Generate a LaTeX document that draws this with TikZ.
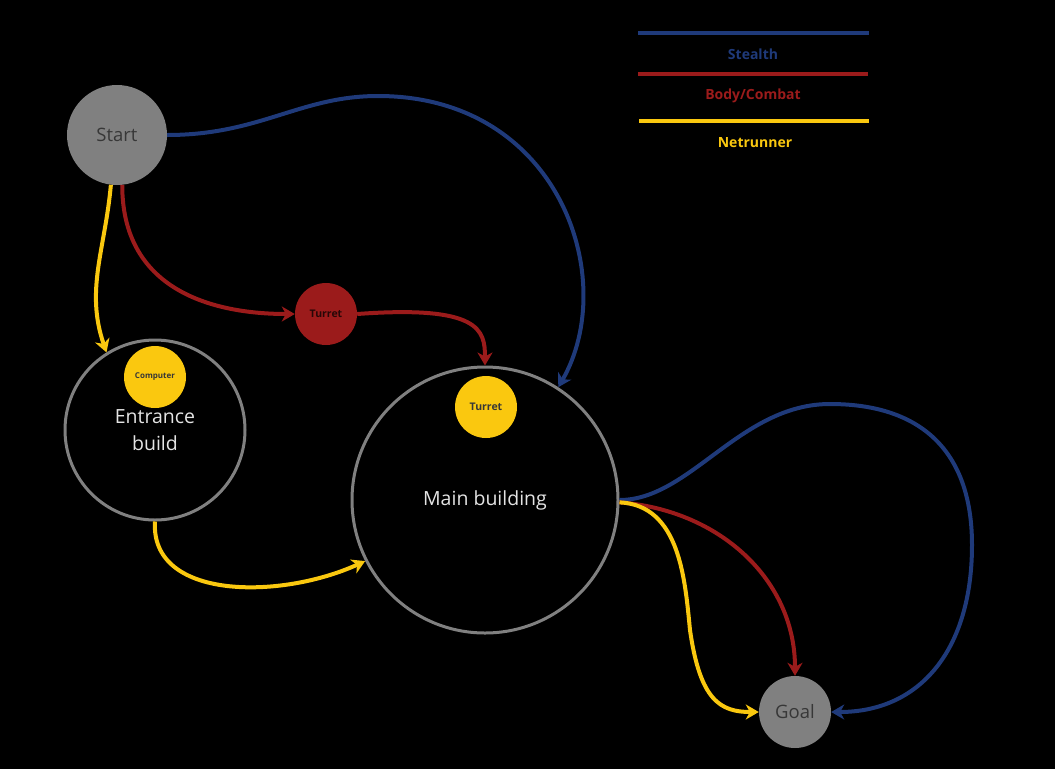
\documentclass[tikz,border=0pt]{standalone}
\usepackage{fontspec}
\setmainfont{Open Sans}
\usetikzlibrary{arrows.meta}

\definecolor{stealthblue}{RGB}{31,58,122}
\definecolor{combatred}{RGB}{155,27,27}
\definecolor{netyellow}{RGB}{250,200,15}
\definecolor{roomgray}{RGB}{128,128,128}
\definecolor{roomtext}{RGB}{228,228,228}
\definecolor{darktext}{RGB}{55,55,55}

\begin{document}
\begin{tikzpicture}[x=1pt,y=-1pt,
  room/.style={circle,draw=roomgray,line width=3pt,fill=black,inner sep=0pt,text=roomtext,font=\fontsize{19.5}{26.5}\selectfont,align=center},
  endpoint/.style={circle,fill=roomgray,inner sep=0pt,text=darktext,font=\fontsize{18.5}{22}\selectfont},
  obstacle/.style={circle,inner sep=0pt,font=\bfseries\fontsize{10.5}{12}\selectfont},
  path/.style={line width=4pt,-{Stealth[length=13pt,width=15pt,inset=4pt]}},
  legend/.style={font=\bfseries\fontsize{14}{16}\selectfont}]
\fill[black] (0,0) rectangle (1055,769);
\useasboundingbox (0,0) rectangle (1055,769);
%\draw[help lines,step=50] (0,0) grid (1055,769);

% rooms
\node[endpoint,minimum size=100pt] (start) at (117,135) {Start};
\node[endpoint,minimum size=72pt] (goal) at (795,712) {Goal};
\node[room,minimum size=180pt] (entrance) at (155,430) {\raisebox{-2pt}{Entrance}\\\raisebox{-2pt}{build}};
\node[room,minimum size=266pt] (main) at (485,500) {\raisebox{-2.5pt}{Main building}};

% obstacles
\node[obstacle,fill=netyellow,text=darktext,minimum size=62pt,font=\bfseries\fontsize{8}{9}\selectfont] (computer) at (155,377) {Computer};
\node[obstacle,fill=combatred,text=black!75!combatred,minimum size=62pt] (turretA) at (326,314) {Turret};
\node[obstacle,fill=netyellow,text=darktext,minimum size=62pt] (turretB) at (486,407) {Turret};

% stealth
\draw[path,stealthblue] (start.east) .. controls (260,135) and (300,96) .. (378,96)
  .. controls (560,96) and (620,280) .. (main.57);
\draw[path,stealthblue] (main.east) .. controls (690,500) and (740,404) .. (830,404)
  .. controls (920,404) and (972,450) .. (972,545)
  .. controls (972,650) and (920,712) .. (goal.east);

% body/combat
\draw[path,combatred] (start.-84) .. controls (122,300) and (230,314) .. (turretA.west);
\draw[path,combatred] (turretA.east) .. controls (480,305) and (485,330) .. (main.north);
\draw[path,combatred] (main.-1) .. controls (720,510) and (795,580) .. (goal.north);

% netrunner
\draw[path,netyellow] (start.-97) .. controls (105,250) and (85,290) .. (entrance.122);
\draw[path,netyellow] (entrance.south) .. controls (150,600) and (280,600) .. (main.207);
\draw[path,netyellow] (main.-1) .. controls (680,505) and (685,580) .. (690,630)
  .. controls (700,700) and (720,712) .. (goal.west);

% legend
\coordinate (sA) at (638,33);  \coordinate (sB) at (869,33);
\coordinate (cA) at (638,74);  \coordinate (cB) at (868,74);
\coordinate (nA) at (639,121); \coordinate (nB) at (869,121);
\draw[stealthblue,line width=4pt] (sA) -- (sB);
\draw[combatred,line width=4pt] (cA) -- (cB);
\draw[netyellow,line width=4pt] (nA) -- (nB);
\node[legend,text=stealthblue] (stealth) at (753,54) {Stealth};
\node[legend,text=combatred] (combat) at (753,96) {Body/Combat};
\node[legend,text=netyellow] (netrunner) at (755,143) {Netrunner};
\end{tikzpicture}
\end{document}
